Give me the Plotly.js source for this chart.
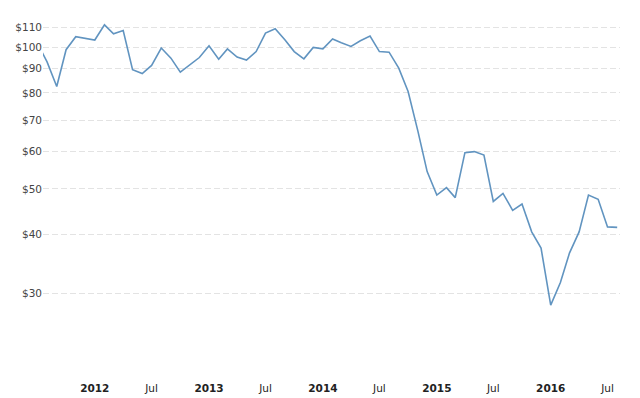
<!DOCTYPE html>
<html>
<head>
<meta charset="utf-8">
<script src="https://cdn.plot.ly/plotly-3.0.1.min.js"></script>
<style>html,body{margin:0;padding:0;background:#fff;}#chart{width:640px;height:398px;}</style>
</head>
<body>
<div id="chart"></div>
<script>
const months = [
 '2011-07-01','2011-08-01','2011-09-01','2011-10-01','2011-11-01','2011-12-01',
 '2012-01-01','2012-02-01','2012-03-01','2012-04-01','2012-05-01','2012-06-01',
 '2012-07-01','2012-08-01','2012-09-01','2012-10-01','2012-11-01','2012-12-01',
 '2013-01-01','2013-02-01','2013-03-01','2013-04-01','2013-05-01','2013-06-01',
 '2013-07-01','2013-08-01','2013-09-01','2013-10-01','2013-11-01','2013-12-01',
 '2014-01-01','2014-02-01','2014-03-01','2014-04-01','2014-05-01','2014-06-01',
 '2014-07-01','2014-08-01','2014-09-01','2014-10-01','2014-11-01','2014-12-01',
 '2015-01-01','2015-02-01','2015-03-01','2015-04-01','2015-05-01','2015-06-01',
 '2015-07-01','2015-08-01','2015-09-01','2015-10-01','2015-11-01','2015-12-01',
 '2016-01-01','2016-02-01','2016-03-01','2016-04-01','2016-05-01','2016-06-01',
 '2016-07-01','2016-08-01'
];
const prices = [
 102.0, 93.1, 82.5, 98.8, 105.3, 104.4,
 103.6, 111.6, 106.8, 108.5, 89.6, 87.9,
 91.5, 99.6, 94.8, 88.5, 91.7, 95.1,
 100.7, 94.3, 99.2, 95.3, 93.9, 97.9,
 107.2, 109.5, 103.7, 97.9, 94.5, 99.9,
 99.2, 104.1, 102.2, 100.4, 103.2, 105.6,
 97.9, 97.6, 90.3, 80.5, 66.5, 54.4,
 48.5, 50.3, 47.9, 59.7, 60.0, 59.0,
 47.0, 48.9, 45.0, 46.4, 40.5, 37.4,
 28.3, 31.6, 36.5, 40.5, 48.5, 47.5,
 41.5, 41.4
];
const xTickVals = ['2012-01-01','2012-07-01','2013-01-01','2013-07-01','2014-01-01','2014-07-01','2015-01-01','2015-07-01','2016-01-01','2016-07-01'];
const xTickText = ['<b>2012</b>','Jul','<b>2013</b>','Jul','<b>2014</b>','Jul','<b>2015</b>','Jul','<b>2016</b>','Jul'];
const yTickVals = [20,30,40,50,60,70,80,90,100,110,120];
const yTickText = ['','$30','$40','$50','$60','$70','$80','$90','$100','$110',''];

const trace = {
  x: months, y: prices, type: 'scatter', mode: 'lines',
  line: {color: '#6194c0', width: 1.6},
  hoverinfo: 'skip'
};
const layout = {
  width: 640, height: 398,
  margin: {l: 43, r: 20, t: 10, b: 22},
  paper_bgcolor: '#fff', plot_bgcolor: '#fff',
  showlegend: false,
  font: {family: 'DejaVu Sans, Verdana, sans-serif', size: 10.5, color: '#333'},
  xaxis: {
    type: 'date',
    range: ['2011-07-19', '2016-08-10'],
    tickvals: xTickVals, ticktext: xTickText,
    showgrid: false, zeroline: false, showline: false,
    ticks: '', ticklabelstandoff: 4, tickfont: {size: 10.5, color: '#222'}
  },
  yaxis: {
    type: 'log',
    range: [Math.log10(20), Math.log10(120)],
    tickvals: yTickVals, ticktext: yTickText,
    showgrid: true, gridcolor: '#e3e3e3', gridwidth: 1, griddash: '6px,3px',
    zeroline: false, showline: false, ticks: '',
    tickfont: {size: 10.5, color: '#444'}
  }
};
Plotly.newPlot('chart', [trace], layout, {staticPlot: true, displayModeBar: false});
</script>
</body>
</html>
